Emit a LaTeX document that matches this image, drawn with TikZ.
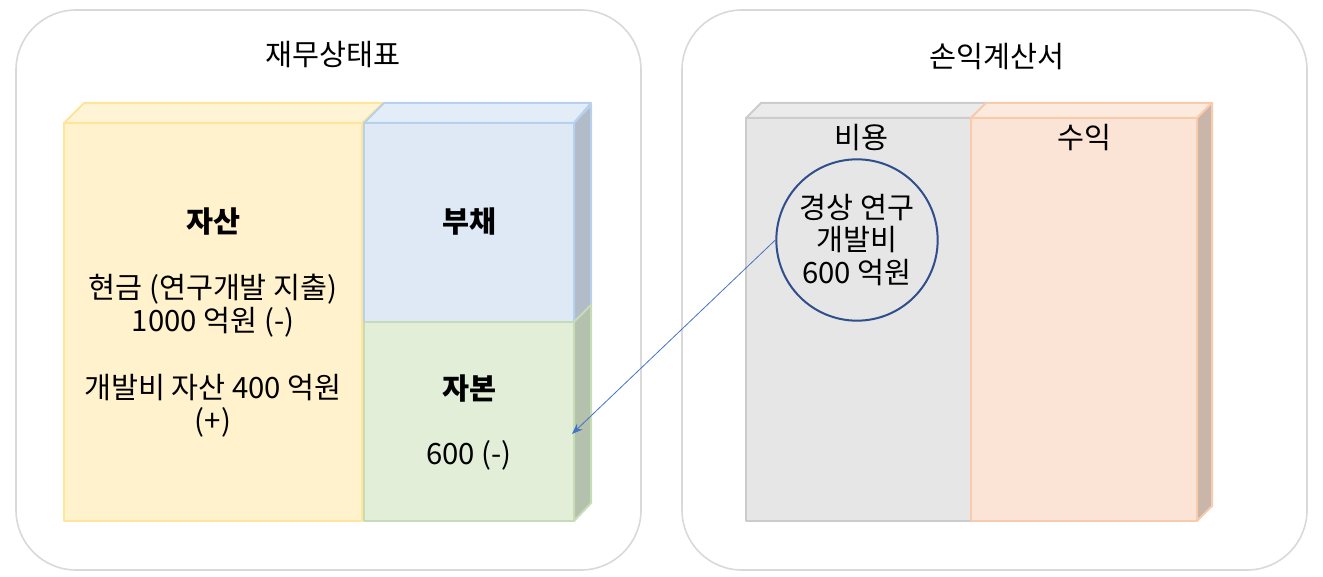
\documentclass[tikz,border=0pt]{standalone}
\usepackage{fontspec}
\setmainfont{Noto Sans CJK KR}
\usetikzlibrary{arrows.meta}

\definecolor{panelline}{HTML}{D9D9D9}
\definecolor{yelfill}{HTML}{FFF2CC}
\definecolor{yeltop}{HTML}{FFF4D6}
\definecolor{yelline}{HTML}{FFE599}
\definecolor{bluefill}{HTML}{DEE9F5}
\definecolor{bluetop}{HTML}{E3EDF8}
\definecolor{blueside}{HTML}{B2BCC8}
\definecolor{blueline}{HTML}{B7D0EC}
\definecolor{grnfill}{HTML}{E2EED8}
\definecolor{grnside}{HTML}{B4C1AC}
\definecolor{grnline}{HTML}{C5DCB6}
\definecolor{grayfill}{HTML}{E6E6E6}
\definecolor{graytop}{HTML}{EBEBEB}
\definecolor{grayline}{HTML}{CCCCCC}
\definecolor{pchfill}{HTML}{FBE4D6}
\definecolor{pchtop}{HTML}{FCEADF}
\definecolor{pchside}{HTML}{C9B5A9}
\definecolor{pchline}{HTML}{F8CBAD}
\definecolor{circline}{HTML}{2F4E8C}
\definecolor{linkblue}{HTML}{4472C4}

\tikzset{
  panel/.style={draw=panelline, line width=1.2pt, rounded corners=45pt},
  asset/.style={fill=yelfill, draw=yelline, line width=1.5pt, line join=round},
  debt/.style={fill=bluefill, draw=blueline, line width=1.5pt, line join=round},
  equity/.style={fill=grnfill, draw=grnline, line width=1.5pt, line join=round},
  cost/.style={fill=grayfill, draw=grayline, line width=1.5pt, line join=round},
  income/.style={fill=pchfill, draw=pchline, line width=1.5pt, line join=round},
  ttl/.style={font=\fontsize{22}{25}\selectfont},
  lbl/.style={font=\fontsize{22}{24.75}\selectfont, align=center, inner sep=0pt},
  hd/.style={font=\fontsize{22}{25}\selectfont\bfseries, inner sep=0pt},
  costc/.style={circle, draw=circline, line width=1.5pt, minimum size=121pt,
    font=\fontsize{22}{24.4}\selectfont, align=center, inner sep=0pt},
  link/.style={draw=linkblue, line width=0.6pt, -{Stealth[length=8pt,width=6pt]}}
}

\begin{document}
\begin{tikzpicture}[x=0.75pt,y=-0.75pt]
\useasboundingbox (0,0) rectangle (1323,577);

% two panels
\draw [panel] (16,10) rectangle (641,570);
\draw [panel] (682,10) rectangle (1307,570);
\node [ttl] (bstitle) at (333,55) {재무상태표};
\node [ttl] (istitle) at (997,57) {손익계산서};

% balance sheet
\filldraw [asset, fill=yeltop] (64,123) -- (84,103) -- (383,103) -- (362,123) -- cycle;
\filldraw [asset] (64,123) rectangle (362,521);
\filldraw [debt, fill=bluetop] (364,123) -- (384,103) -- (591,103) -- (574,123) -- cycle;
\filldraw [debt, fill=blueside] (574,123) -- (591,105) -- (591,305) -- (574,322) -- cycle;
\filldraw [debt] (364,123) rectangle (574,322);
\filldraw [equity, fill=grnside] (574,322) -- (591,305) -- (591,503) -- (574,521) -- cycle;
\filldraw [equity] (364,322) rectangle (574,521);

\node [hd] (asset) at (213,222) {자산};
\node [lbl] (cash) at (213,306) {현금 (연구개발 지출)\\1000 억원 (-)};
\node [lbl] (devasset) at (213,406) {개발비 자산 400 억원\\(+)};
\node [hd] (debt) at (469,222) {부채};
\node [hd] (equity) at (469,389) {자본};
\node [lbl] (eqloss) at (469,455) {600 (-)};

% income statement
\filldraw [cost, fill=graytop] (746,118) -- (761,103) -- (986,103) -- (971,118) -- cycle;
\filldraw [cost] (746,118) rectangle (971,521);
\filldraw [income, fill=pchtop] (971,118) -- (986,103) -- (1212,103) -- (1197,118) -- cycle;
\filldraw [income, fill=pchside] (1197,118) -- (1212,103) -- (1212,506) -- (1197,521) -- cycle;
\filldraw [income] (971,118) rectangle (1197,521);

\node [lbl] (cost) at (861,138) {비용};
\node [lbl] (income) at (1084,138) {수익};
\node [costc] (rnd) at (857,240) {경상 연구\\개발비\\600 억원};

% expense goes to equity
\coordinate (eqin) at (572,434);
\draw [link] (rnd.west) -- (eqin);
\end{tikzpicture}
\end{document}
